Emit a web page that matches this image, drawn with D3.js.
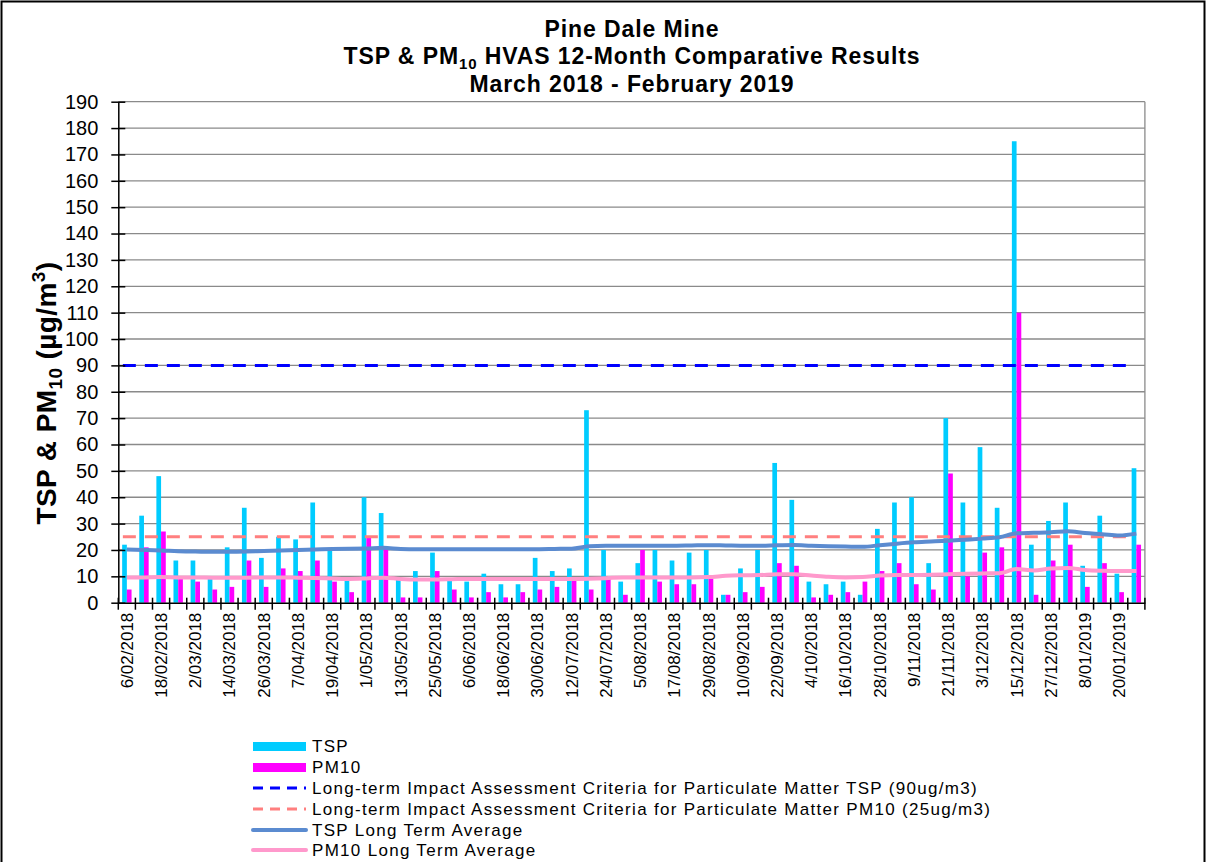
<!DOCTYPE html>
<html><head><meta charset="utf-8">
<script src="https://cdn.jsdelivr.net/npm/d3@7"></script>
<style>
body{margin:0;background:#fff;}
svg{display:block;font-family:"Liberation Sans",Arial,sans-serif;}
</style></head>
<body><svg id="chart" width="1206" height="862"></svg>
<script>
// ---- data ----
const dates = ["6/02/2018","12/02/2018","18/02/2018","24/02/2018","2/03/2018","8/03/2018","14/03/2018","20/03/2018","26/03/2018","1/04/2018","7/04/2018","13/04/2018","19/04/2018","25/04/2018","1/05/2018","7/05/2018","13/05/2018","19/05/2018","25/05/2018","31/05/2018","6/06/2018","12/06/2018","18/06/2018","24/06/2018","30/06/2018","6/07/2018","12/07/2018","18/07/2018","24/07/2018","30/07/2018","5/08/2018","11/08/2018","17/08/2018","23/08/2018","29/08/2018","4/09/2018","10/09/2018","16/09/2018","22/09/2018","28/09/2018","4/10/2018","10/10/2018","16/10/2018","22/10/2018","28/10/2018","3/11/2018","9/11/2018","15/11/2018","21/11/2018","27/11/2018","3/12/2018","9/12/2018","15/12/2018","21/12/2018","27/12/2018","2/01/2019","8/01/2019","14/01/2019","20/01/2019","26/01/2019"];
const tsp = [22,33,48,16,16,9,21,36,17,25,24,38,20,9,40,34,9,12,19,9,8,11,7,7,17,12,13,73,20,8,15,20,16,19,20,3,13,20,53,39,8,7,8,3,28,38,40,15,70,38,59,36,175,22,31,38,14,33,11,51];
const pm10 = [5,21,27,9,8,5,6,16,6,13,12,16,8,4,25,21,2,2,12,5,2,4,2,4,5,6,9,5,9,3,20,8,7,7,9,3,4,6,15,14,2,3,4,8,12,15,7,5,49,10,19,21,110,3,16,22,6,15,4,22];
const tspAvg = [20.2,20.0,19.8,19.5,19.4,19.3,19.3,19.4,19.6,19.8,20.0,20.2,20.4,20.5,20.6,20.8,20.4,20.3,20.3,20.3,20.3,20.3,20.3,20.3,20.3,20.4,20.5,21.4,21.6,21.6,21.6,21.6,21.6,21.7,21.8,21.7,21.6,21.6,21.8,21.9,21.6,21.4,21.3,21.2,21.8,22.4,22.9,23.2,23.5,23.9,24.3,24.8,26.3,26.5,26.7,27.1,26.4,26.0,25.5,26.2];
const pm10Avg = [9.6,9.6,9.7,9.6,9.6,9.5,9.5,9.5,9.6,9.6,9.5,9.4,9.2,9.0,9.2,9.5,9.0,8.8,8.8,8.9,9.0,9.0,9.0,9.0,9.0,9.0,9.0,9.1,9.3,9.6,9.6,9.6,9.6,9.6,9.7,10.2,10.4,10.5,10.8,10.8,10.3,9.8,9.6,9.7,10.3,10.5,10.5,10.6,10.8,11.0,11.1,11.2,12.8,12.2,13.0,13.2,12.4,12.1,12.0,12.0];
const tspCriteria = 90;
const pm10Criteria = 25;
const yTicks = d3.range(0, 191, 10);
const titleLines = ["Pine Dale Mine", "TSP & PM10 HVAS 12-Month Comparative Results", "March 2018 - February 2019"];
const legendLabels = ["TSP","PM10","Long-term Impact Assessment Criteria for Particulate Matter TSP (90ug/m3)","Long-term Impact Assessment Criteria for Particulate Matter PM10 (25ug/m3)","TSP Long Term Average","PM10 Long Term Average"];

// ---- layout ----
const svg = d3.select("#chart");
const L = 118.3, R = 1144.9, T = 101.7, B = 602.7;
const col = {tsp:"#00CCFF", pm10:"#FF00FF", tspCrit:"#0000FF", pmCrit:"#FF7F7F", tspAvg:"#5B8BD0", pmAvg:"#FF99CC"};

svg.append("rect").attr("x",1.5).attr("y",1.5).attr("width",1203).attr("height",866)
  .attr("fill","#fff").attr("stroke","#000").attr("stroke-width",2);

const x = d3.scaleBand().domain(dates).range([L, R]).padding(0);
const xs = d3.scaleBand().domain(["TSP","PM10"]).range([0, x.bandwidth()]).paddingInner(0).paddingOuter(0.82);
const y = d3.scaleLinear().domain([0,190]).range([B, T]);

// gridlines
svg.append("g").selectAll("line").data(yTicks.filter(d=>d>0)).join("line")
  .attr("x1",L).attr("x2",R).attr("y1",d=>y(d)).attr("y2",d=>y(d))
  .attr("stroke","#8a8a8a").attr("stroke-width",1.3);
svg.append("line").attr("x1",R).attr("x2",R).attr("y1",T).attr("y2",B).attr("stroke","#8a8a8a").attr("stroke-width",1.3);

// bars
const bars = svg.append("g");
bars.selectAll("rect.tsp").data(tsp).join("rect").attr("class","tsp")
  .attr("x",(d,i)=>x(dates[i])+xs("TSP")).attr("width",xs.bandwidth())
  .attr("y",d=>y(d)).attr("height",d=>B-y(d)).attr("fill",col.tsp);
bars.selectAll("rect.pm").data(pm10).join("rect").attr("class","pm")
  .attr("x",(d,i)=>x(dates[i])+xs("PM10")).attr("width",xs.bandwidth())
  .attr("y",d=>y(d)).attr("height",d=>B-y(d)).attr("fill",col.pm10);

const cx = i => x(dates[i]) + x.bandwidth()/2;
// criteria lines
svg.append("line").attr("x1",cx(0)-4).attr("x2",cx(dates.length-1)-4).attr("y1",y(pm10Criteria)).attr("y2",y(pm10Criteria))
  .attr("stroke",col.pmCrit).attr("stroke-width",3).attr("stroke-dasharray","13,9");
svg.append("line").attr("x1",cx(0)-4).attr("x2",cx(dates.length-1)-4).attr("y1",y(tspCriteria)).attr("y2",y(tspCriteria))
  .attr("stroke",col.tspCrit).attr("stroke-width",3).attr("stroke-dasharray","13,9");

// average lines
const line = d3.line().x((d,i)=>cx(i)).y(d=>y(d)).curve(d3.curveMonotoneX);
svg.append("path").datum(pm10Avg).attr("d",line).attr("fill","none").attr("stroke",col.pmAvg).attr("stroke-width",4);
svg.append("path").datum(tspAvg).attr("d",line).attr("fill","none").attr("stroke",col.tspAvg).attr("stroke-width",4);

// y axis
const yAxis = d3.axisLeft(y).tickValues(yTicks).tickSizeInner(7).tickSizeOuter(0).tickPadding(13);
const yg = svg.append("g").attr("transform",`translate(${L},0)`).call(yAxis);
yg.select(".domain").attr("stroke","#000").attr("stroke-width",1.5);
yg.selectAll(".tick line").attr("x2",-7).attr("x1",7).attr("stroke","#000").attr("stroke-width",1.5);
yg.selectAll(".tick text").attr("font-size","20px").attr("font-family","'Liberation Sans',Arial,sans-serif").attr("fill","#000");

// x axis
const xAxis = d3.axisBottom(x).tickSize(0).tickFormat((d,i)=> i%2===0 ? d : "");
const xg = svg.append("g").attr("transform",`translate(0,${B})`).call(xAxis);
xg.select(".domain").attr("stroke","#000").attr("stroke-width",1.5);
xg.selectAll(".tick text").attr("font-size","17px").attr("font-family","'Liberation Sans',Arial,sans-serif").attr("fill","#000")
  .attr("text-anchor","end").attr("transform","rotate(-90)").attr("x",-10).attr("y",0).attr("dy","0.35em");
// boundary ticks
const bounds = d3.range(dates.length+1).map(i => L + i*x.step());
xg.selectAll("line.btick").data(bounds).join("line").attr("class","btick")
  .attr("x1",d=>d).attr("x2",d=>d).attr("y1",-5).attr("y2",7).attr("stroke","#000").attr("stroke-width",1.5);

// title
const tg = svg.append("g").attr("font-weight","bold").attr("font-size","23px").attr("letter-spacing","0.9px")
  .attr("text-anchor","middle").attr("fill","#000");
tg.append("text").attr("x",632).attr("y",37).text(titleLines[0]);
const t2 = tg.append("text").attr("x",632).attr("y",64);
t2.append("tspan").text("TSP & PM");
t2.append("tspan").attr("font-size","15px").attr("dy",5).text("10");
t2.append("tspan").attr("dy",-5).text(" HVAS 12-Month Comparative Results");
tg.append("text").attr("x",632).attr("y",92).text(titleLines[2]);

// y title
const yt = svg.append("text").attr("transform","translate(56,393) rotate(-90)").attr("text-anchor","middle")
  .attr("font-weight","bold").attr("font-size","28px").attr("letter-spacing","0.4px").attr("fill","#000");
yt.append("tspan").text("TSP & PM");
yt.append("tspan").attr("font-size","19px").attr("dy",6).text("10");
yt.append("tspan").attr("dy",-6).text(" (µg/m");
yt.append("tspan").attr("font-size","19px").attr("dy",-11).text("3");
yt.append("tspan").attr("dy",11).text(")");

// legend
const lg = svg.append("g");
const ly = [746,767,788,809,830,850];
const lx1 = 253, lx2 = 306;
lg.append("rect").attr("x",lx1).attr("y",ly[0]-4).attr("width",lx2-lx1).attr("height",9).attr("fill",col.tsp);
lg.append("rect").attr("x",lx1).attr("y",ly[1]-4).attr("width",lx2-lx1).attr("height",9).attr("fill",col.pm10);
lg.append("line").attr("x1",lx1).attr("x2",lx2).attr("y1",ly[2]).attr("y2",ly[2]).attr("stroke",col.tspCrit).attr("stroke-width",3).attr("stroke-dasharray","10,7");
lg.append("line").attr("x1",lx1).attr("x2",lx2).attr("y1",ly[3]).attr("y2",ly[3]).attr("stroke",col.pmCrit).attr("stroke-width",3).attr("stroke-dasharray","10,7");
lg.append("line").attr("x1",lx1).attr("x2",lx2).attr("y1",ly[4]).attr("y2",ly[4]).attr("stroke",col.tspAvg).attr("stroke-width",4).attr("stroke-linecap","round");
lg.append("line").attr("x1",lx1).attr("x2",lx2).attr("y1",ly[5]).attr("y2",ly[5]).attr("stroke",col.pmAvg).attr("stroke-width",4).attr("stroke-linecap","round");
lg.selectAll("text").data(legendLabels).join("text").attr("x",312).attr("y",(d,i)=>ly[i]).attr("dy","0.36em")
  .attr("font-size","17px").attr("letter-spacing","1.3px").attr("fill","#000").text(d=>d);
</script></body></html>
